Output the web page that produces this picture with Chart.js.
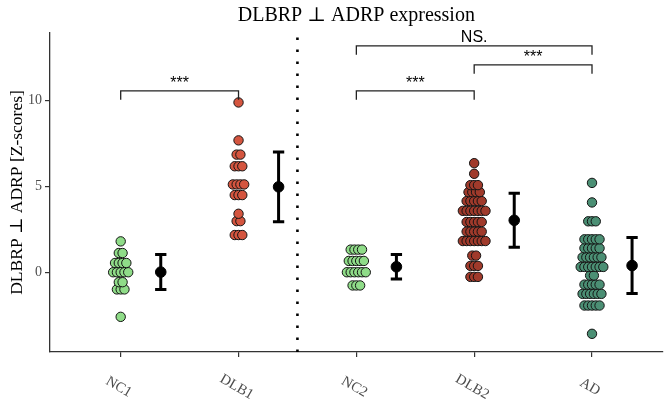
<!DOCTYPE html>
<html>
<head>
<meta charset="utf-8">
<script src="https://cdn.jsdelivr.net/npm/chart.js@4.4.1/dist/chart.umd.min.js"></script>
<style>
  html, body { margin:0; padding:0; background:#fff; }
  #wrap { width:669px; height:418px; }
</style>
</head>
<body>
<div id="wrap"><canvas id="chart"></canvas></div>
<script>
/* ---------- data ---------- */
const groups = ["NC1", "DLB1", "NC2", "DLB2", "AD"];

const nc1  = [-2.6, -1.0, -1.0, -1.0, -0.58, -0.58, 0, 0, 0, 0, 0, 0.54, 0.54, 0.54, 0.54, 1.12, 1.12, 1.8];
const dlb1 = [2.17, 2.17, 2.17, 2.98, 2.98, 3.41, 4.5, 4.5, 4.5, 5.12, 5.12, 5.12, 5.12, 6.18, 6.18, 6.18, 6.86, 6.86, 7.69, 9.9];
const nc2  = [-0.77, -0.77, -0.77, 0, 0, 0, 0, 0, 0, 0.66, 0.66, 0.66, 0.66, 0.66, 1.32, 1.32, 1.32, 1.32];
const dlb2 = [-0.27, -0.27, -0.27, 0.37, 0.37, 0.37, 0.97, 0.97,
              1.82, 1.82, 1.82, 1.82, 1.82, 1.82, 1.82, 2.37, 2.37, 2.37, 2.37, 2.37,
              2.93, 2.93, 2.93, 2.93, 2.93, 3.58, 3.58, 3.58, 3.58, 3.58, 3.58, 3.58,
              4.15, 4.15, 4.15, 4.15, 4.15, 4.67, 4.67, 4.67, 4.67, 5.08, 5.08, 5.08, 5.74, 6.36];
const ad   = [-3.59, -1.94, -1.94, -1.94, -1.94, -1.94, -1.26, -1.26, -1.26, -1.26, -1.26, -1.26,
              -0.72, -0.72, -0.72, -0.72, -0.72, -0.19, -0.19,
              0.31, 0.31, 0.31, 0.31, 0.31, 0.31, 0.31, 0.87, 0.87, 0.87, 0.87, 0.87, 0.87,
              1.4, 1.4, 1.4, 1.4, 1.4, 1.92, 1.92, 1.92, 1.92, 1.92, 2.97, 2.97, 2.97, 4.07, 5.21];

const groupValues = [nc1, dlb1, nc2, dlb2, ad];
const groupColors = ["#8fdc88", "#d4553f", "#8fdc88", "#a03a2b", "#4b8f74"];

// mean +/- sd drawn to the right of each group
const means = [0.01, 4.98, 0.32, 3.03, 0.39];
const sds   = [1.02, 2.03, 0.71, 1.57, 1.63];

// significance brackets
const bracketFrom  = [1, 3, 4, 3];
const bracketTo    = [2, 4, 5, 5];
const bracketY     = [10.58, 10.58, 12.09, 13.2];
const bracketLabel = ["***", "***", "***", "NS."];

const Y_MIN = -4.65, Y_MAX = 13.95;
const DOT_STEP = 0.032;   // horizontal shift between stacked dots
const BAR_OFFSET = 0.34;  // error bar position right of the group
const CAP = 0.048;

/* ---------- datasets ---------- */
function stackDots(vals, cat){
  const rows = {};
  vals.forEach(v => { (rows[v] = rows[v] || []).push(v); });
  const pts = [];
  Object.keys(rows).forEach(k => {
    const n = rows[k].length;
    rows[k].forEach((v, i) => pts.push({x: cat + (i - (n - 1) / 2) * DOT_STEP, y: v}));
  });
  return pts;
}

const datasets = [];

// dotted separator
datasets.push({
  data: [{x: 2.5, y: Y_MIN}, {x: 2.5, y: Y_MAX}],
  showLine: true, pointRadius: 0, borderColor: "#000", borderWidth: 2.6,
  borderDash: [2.6, 9.4], borderCapStyle: "butt"
});

// brackets
bracketFrom.forEach((f, i) => {
  const t = bracketTo[i], y = bracketY[i], drop = 0.52;
  datasets.push({
    data: [{x: f, y: y - drop}, {x: f, y: y}, {x: t, y: y}, {x: t, y: y - drop}],
    showLine: true, pointRadius: 0, borderColor: "#222", borderWidth: 1.3, tension: 0
  });
});

// dots
groupValues.forEach((vals, g) => {
  datasets.push({
    data: stackDots(vals, g + 1),
    pointRadius: 4.7, pointBackgroundColor: groupColors[g],
    pointBorderColor: "#141414", pointBorderWidth: 1, showLine: false
  });
});

// error bars
means.forEach((m, g) => {
  const x = g + 1 + BAR_OFFSET, hi = m + sds[g], lo = m - sds[g];
  datasets.push({
    data: [{x: x - CAP, y: hi}, {x: x + CAP, y: hi}, {x: NaN, y: null},
           {x: x, y: hi}, {x: x, y: lo}, {x: NaN, y: null},
           {x: x - CAP, y: lo}, {x: x + CAP, y: lo}],
    showLine: true, spanGaps: false, pointRadius: 0,
    borderColor: "#000", borderWidth: 3, borderCapStyle: "butt"
  });
  datasets.push({
    data: [{x: x, y: m}],
    pointRadius: 5.3, pointBackgroundColor: "#000", pointBorderColor: "#000", showLine: false
  });
});

/* ---------- custom text: rotated x labels + bracket labels ---------- */
const textPlugin = {
  id: "textPlugin",
  afterDraw(chart){
    const {ctx, scales:{x, y}, chartArea} = chart;
    ctx.save();
    ctx.fillStyle = "#4d4d4d";
    ctx.font = "14.5px 'Liberation Serif', 'DejaVu Serif', serif";
    ctx.textAlign = "center";
    ctx.textBaseline = "middle";
    groups.forEach((g, i) => {
      ctx.save();
      ctx.translate(x.getPixelForValue(i + 1) - 2, chartArea.bottom + 35);
      ctx.rotate(30 * Math.PI / 180);
      ctx.fillText(g, 0, 0);
      ctx.restore();
    });
    ctx.fillStyle = "#000";
    ctx.textBaseline = "alphabetic";
    bracketLabel.forEach((lab, i) => {
      const cx = (x.getPixelForValue(bracketFrom[i]) + x.getPixelForValue(bracketTo[i])) / 2;
      const py = y.getPixelForValue(bracketY[i]);
      if (lab === "NS.") {
        ctx.font = "16px 'Liberation Sans Narrow', 'Liberation Sans', sans-serif";
        ctx.fillText(lab, cx, py - 3.5);
      } else {
        ctx.font = "16px 'Liberation Sans', sans-serif";
        ctx.fillText(lab, cx, py - 3);
      }
    });
    ctx.restore();
  }
};

/* ---------- chart ---------- */
new Chart(document.getElementById("chart"), {
  type: "scatter",
  data: {datasets},
  options: {
    responsive: true,
    maintainAspectRatio: false,
    animation: false,
    layout: {padding: {right: 1}},
    plugins: {
      legend: {display: false},
      tooltip: {enabled: false},
      title: {
        display: true, fullSize: false,
        text: "DLBRP \u22A5 ADRP expression",
        color: "#000",
        font: {family: "'Liberation Serif', 'DejaVu Serif', serif", size: 20, weight: "normal"},
        padding: {top: 4, bottom: 5}
      }
    },
    scales: {
      x: {
        type: "linear", min: 0.4, max: 5.6,
        afterBuildTicks: s => { s.ticks = groups.map((_, i) => ({value: i + 1})); },
        afterFit: s => { s.height = 66; },
        ticks: {display: false},
        grid: {drawOnChartArea: false, drawTicks: true, tickLength: 5, color: "#333", lineWidth: 1.2},
        border: {display: true, color: "#333", width: 1.3}
      },
      y: {
        type: "linear", min: Y_MIN, max: Y_MAX,
        afterBuildTicks: s => { s.ticks = [0, 5, 10].map(v => ({value: v})); },
        afterFit: s => { s.width = 50; },
        ticks: {
          color: "#4d4d4d", padding: 3,
          font: {family: "'Liberation Serif', 'DejaVu Serif', serif", size: 14}
        },
        grid: {drawOnChartArea: false, drawTicks: true, tickLength: 5, color: "#333", lineWidth: 1.2},
        border: {display: true, color: "#333", width: 1.3},
        title: {
          display: true, text: "DLBRP \u22A5 ADRP [Z-scores]", color: "#000",
          font: {family: "'Liberation Serif', 'DejaVu Serif', serif", size: 17.5},
          padding: {top: 6.5, bottom: 0}
        }
      }
    }
  },
  plugins: [textPlugin]
});
</script>
</body>
</html>
